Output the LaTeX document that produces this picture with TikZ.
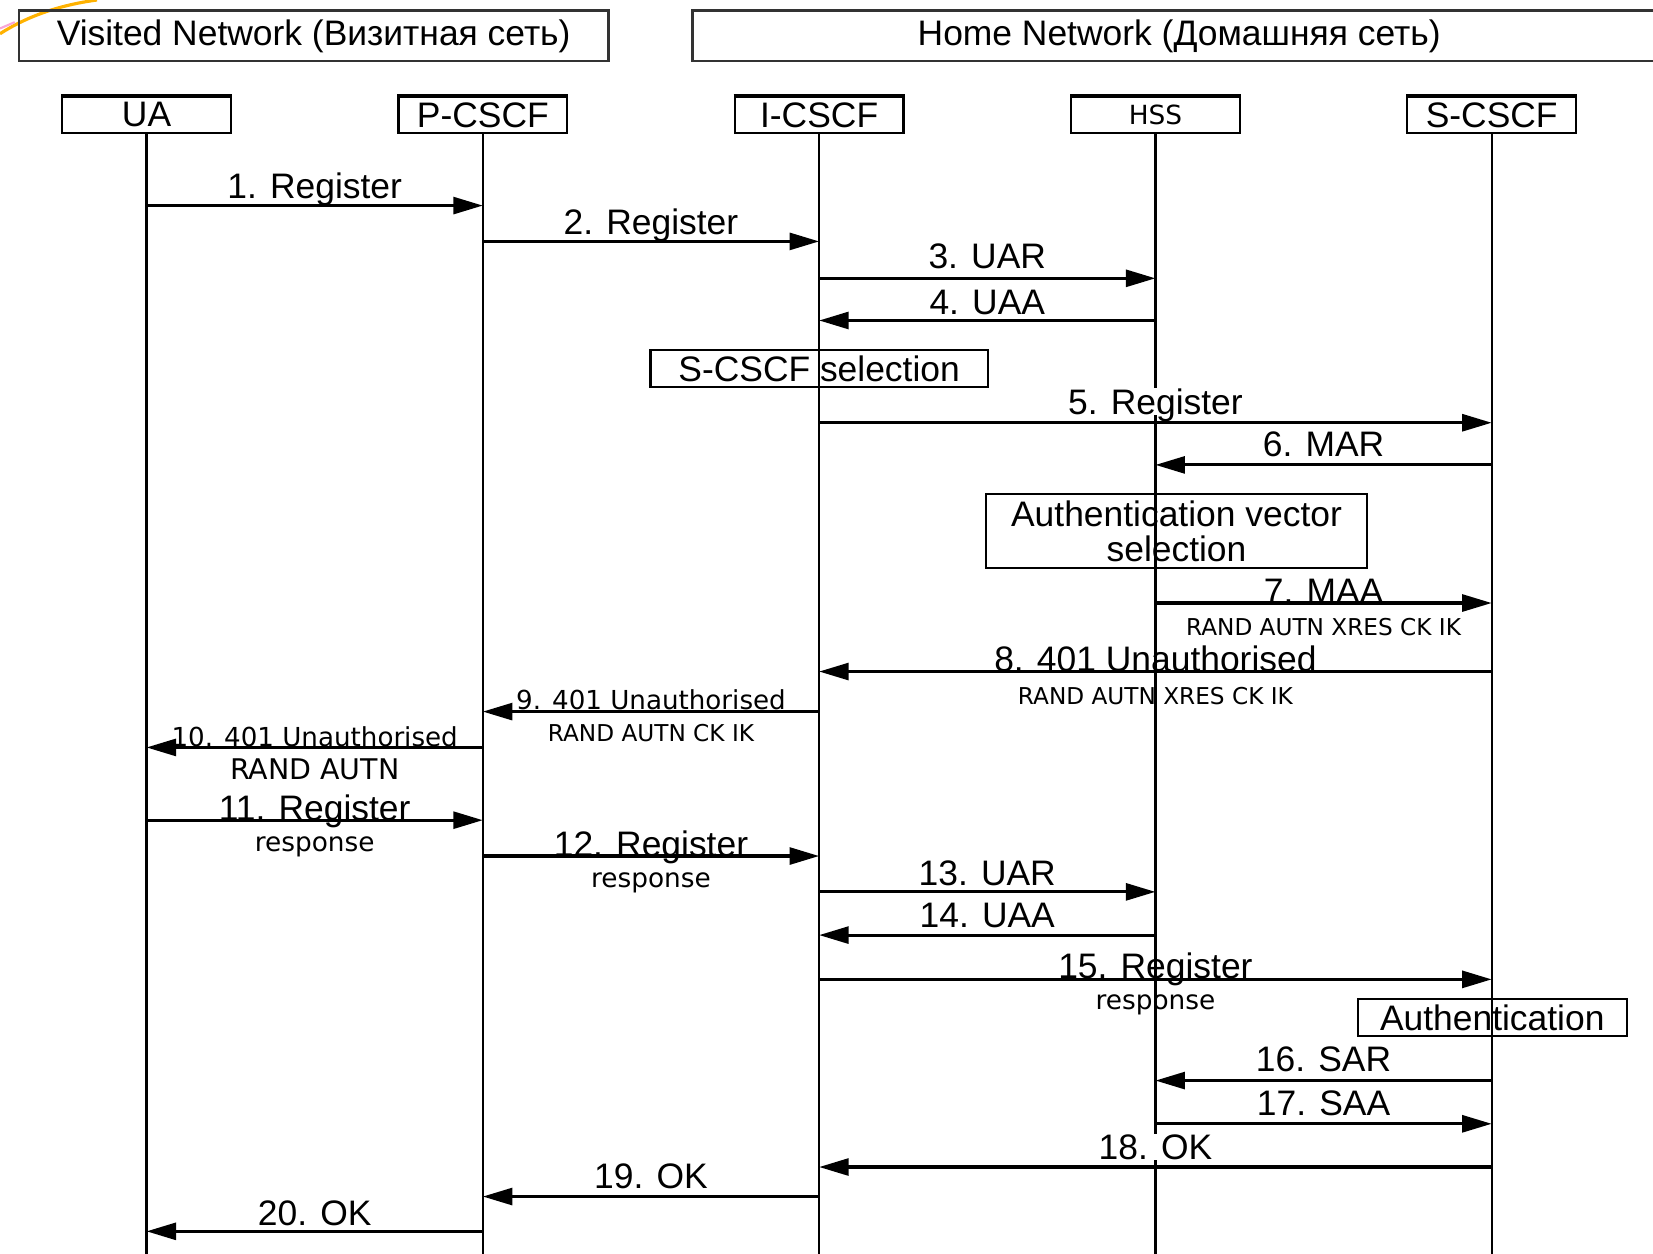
\documentclass[tikz,border=0pt]{standalone}
\usepackage{fontspec}
\setmainfont{Liberation Sans}
\newfontfamily\smallsans{DejaVu Sans}
\usetikzlibrary{arrows.meta,positioning}

\tikzset{
    entity/.style={draw, line width=1pt, minimum width=80pt, minimum height=17pt,
        inner sep=0pt, font=\fontsize{16.8}{17}\selectfont},
    netbox/.style={draw=black!80, line width=1.2pt, minimum height=24pt,
        inner sep=0pt, font=\fontsize{16.8}{17}\selectfont},
    notebox/.style={draw, line width=1pt, inner sep=0pt, align=center,
        font=\fontsize{16.8}{17}\selectfont},
    lifeline/.style={line width=1.1pt},
    msg/.style={line width=1.5pt, -{Triangle[length=14pt,width=8pt]}},
    lbl/.style={midway, anchor=base, fill=white, inner sep=0.4pt, text depth=0pt,
        font=\fontsize{16.8}{17}\selectfont},
    onlbl/.style={midway, anchor=base, inner sep=0pt,
        font=\fontsize{16.8}{17}\selectfont},
    smalllbl/.style={midway, anchor=base, inner sep=0pt,
        font=\smallsans\fontsize{12.4}{13}\selectfont},
    sublbl/.style={midway, yshift=-11pt, inner sep=0pt,
        font=\smallsans\fontsize{11}{12}\selectfont},
}

\begin{document}
\begin{tikzpicture}[x=0.5pt, y=-0.5pt]
    \useasboundingbox (0,0) rectangle (1568,1189);
    % slide decoration
    \draw[orange!60!yellow, line width=1.5pt] (0,32) .. controls (25,16) and (55,5) .. (92,0);
    \draw[magenta!35, line width=1pt] (0,27) -- (14,21);

    % networks
    \node[netbox, minimum width=279.5pt] (visited) at (297.5,34) {Visited Network (Визитная сеть)};
    \node[netbox, minimum width=461.5pt] (home) at (1118.5,34) {Home Network (Домашняя сеть)};

    % entities
    \node[entity] (ua) at (139,109) {UA};
    \node[entity] (pcscf) at (458,109) {P-CSCF};
    \node[entity] (icscf) at (777,109) {I-CSCF};
    \node[entity, font=\smallsans\fontsize{12.5}{13}\selectfont] (hss) at (1096,109) {HSS};
    \node[entity] (scscf) at (1415,109) {S-CSCF};
    \coordinate (bottom) at (0,1195);
    \foreach \n in {ua,pcscf,icscf,hss,scscf} {
        \draw[line width=2pt] (\n.north west) -- (\n.north east);
        \draw[lifeline] (\n.south) -- (\n |- bottom);
    }

    % notes
    \node[notebox, minimum width=160pt, minimum height=17.5pt] (sel) at (777,349.5) {S-CSCF selection};
    \node[notebox, minimum width=181pt, minimum height=35pt] (avsel) at (1116,504) {Authentication vector\\selection};
    \node[notebox, minimum width=127.5pt, minimum height=17.5pt] (auth) at (1415.5,965.5) {Authentication};

    % messages
    \draw[msg] (ua |- 0,195) -- (pcscf |- 0,195) node[lbl, yshift=3.5pt] {1. Register};
    \draw[msg] (pcscf |- 0,229) -- (icscf |- 0,229) node[lbl, yshift=3.5pt] {2. Register};
    \draw[msg] (icscf |- 0,264) -- (hss |- 0,264) node[lbl, yshift=4.5pt] {3. UAR};
    \draw[msg] (hss |- 0,304) -- (icscf |- 0,304) node[lbl, yshift=3pt] {4. UAA};
    \draw[msg] (icscf |- 0,401) -- (scscf |- 0,401) node[lbl, yshift=4pt] {5. Register};
    \draw[msg] (scscf |- 0,441) -- (hss |- 0,441) node[lbl, yshift=4pt] {6. MAR};
    \draw[msg] (hss |- 0,572) -- (scscf |- 0,572) node[onlbl] {7. MAA}
        node[sublbl, yshift=-0.5pt] {RAND AUTN XRES CK IK};
    \draw[msg] (scscf |- 0,637) -- (icscf |- 0,637) node[onlbl] {8. 401 Unauthorised}
        node[sublbl, yshift=-0.5pt] {RAND AUTN XRES CK IK};
    \draw[msg] (icscf |- 0,675) -- (pcscf |- 0,675) node[smalllbl, yshift=1pt] {9. 401 Unauthorised}
        node[sublbl, yshift=1pt] {RAND AUTN CK IK};
    \draw[msg] (pcscf |- 0,709) -- (ua |- 0,709) node[smalllbl, yshift=0.5pt] {10. 401 Unauthorised}
        node[sublbl, yshift=0.5pt, font=\smallsans\fontsize{13.5}{14}\selectfont] {RAND AUTN};
    \draw[msg] (ua |- 0,778) -- (pcscf |- 0,778) node[onlbl] {11. Register}
        node[sublbl, yshift=-1.5pt, font=\smallsans\fontsize{12.5}{13}\selectfont] {response};
    \draw[msg] (pcscf |- 0,812) -- (icscf |- 0,812) node[onlbl] {12. Register}
        node[sublbl, yshift=-1.5pt, font=\smallsans\fontsize{12.5}{13}\selectfont] {response};
    \draw[msg] (icscf |- 0,846) -- (hss |- 0,846) node[lbl, yshift=3pt] {13. UAR};
    \draw[msg] (hss |- 0,887) -- (icscf |- 0,887) node[lbl, yshift=3.5pt] {14. UAA};
    \draw[msg] (icscf |- 0,929) -- (scscf |- 0,929) node[onlbl, yshift=0.5pt] {15. Register}
        node[sublbl, yshift=-1pt, font=\smallsans\fontsize{12.5}{13}\selectfont] {response};
    \draw[msg] (scscf |- 0,1025) -- (hss |- 0,1025) node[lbl, yshift=4.5pt] {16. SAR};
    \draw[msg] (hss |- 0,1066) -- (scscf |- 0,1066) node[lbl, yshift=4pt] {17. SAA};
    \draw[msg] (scscf |- 0,1107) -- (icscf |- 0,1107) node[lbl, yshift=3.5pt] {18. OK};
    \draw[msg] (icscf |- 0,1135) -- (pcscf |- 0,1135) node[lbl, yshift=4pt] {19. OK};
    \draw[msg] (pcscf |- 0,1168) -- (ua |- 0,1168) node[lbl, yshift=3pt] {20. OK};
\end{tikzpicture}
\end{document}
